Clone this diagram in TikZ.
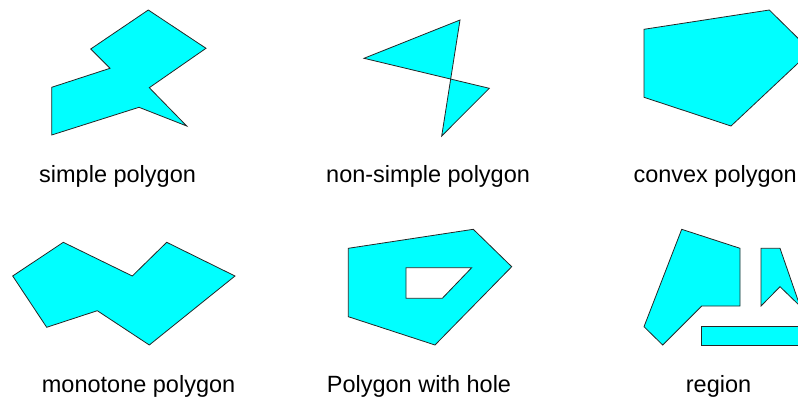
\documentclass[tikz,border=0pt]{standalone}
\usepackage{fontspec}
\setmainfont{Liberation Sans}
\begin{document}
\begin{tikzpicture}[x=1pt,y=-1pt,
  poly/.style={fill={rgb,255:red,0;green,255;blue,255}, draw=black!85, line width=0.8pt, line join=miter},
  lbl/.style={anchor=base west, inner sep=0pt, font=\fontsize{23.5}{28}\selectfont}]
\useasboundingbox (0,0) rectangle (798,401);
\clip (0,0) rectangle (798,401);
% simple polygon
\path[poly] (148.3,10) -- (206,48.3) -- (149.3,87.7) -- (186.7,126) -- (139,107.3) -- (51.7,135) -- (51.7,87.3) -- (110,68.3) -- (90.7,49) -- cycle;
% non-simple polygon
\path[poly] (364,58.3) -- (460,20) -- (441.7,136) -- (489.3,88.3) -- cycle;
% convex polygon
\path[poly] (644,29.3) -- (769.3,10) -- (811,51) -- (731,126) -- (644,97.3) -- cycle;
% monotone polygon
\path[poly] (12.7,276) -- (63.3,242.3) -- (132.3,276) -- (166.7,242.3) -- (235,276) -- (149.3,345) -- (97.3,310.7) -- (46.7,327.3) -- cycle;
% polygon with hole
\path[poly, even odd rule] (348.3,248.3) -- (473.3,229.3) -- (511.7,266.7) -- (435,345) -- (348.3,316.7) -- cycle
  (406,267.7) -- (471.7,267.7) -- (442.3,298.3) -- (406,298.3) -- cycle;
% region
\path[poly] (681.7,229.3) -- (740,248.3) -- (740,306) -- (701.7,306) -- (662.7,345) -- (644,326.7) -- cycle;
\path[poly] (761,248.3) -- (780,248.3) -- (800,306) -- (780,286.7) -- (761,306) -- cycle;
\path[poly] (701.7,326) -- (810,326) -- (810,345) -- (701.7,345) -- cycle;
% labels
\node[lbl] (l1) at (39,182.7) {simple polygon};
\node[lbl] (l2) at (326,182.7) {non-simple polygon};
\node[lbl] (l3) at (633.3,182.7) {convex polygon};
\node[lbl] (l4) at (41.7,392) {monotone polygon};
\node[lbl] (l5) at (326.7,392) {Polygon with hole};
\node[lbl] (l6) at (685.7,392) {region};
\end{tikzpicture}
\end{document}
